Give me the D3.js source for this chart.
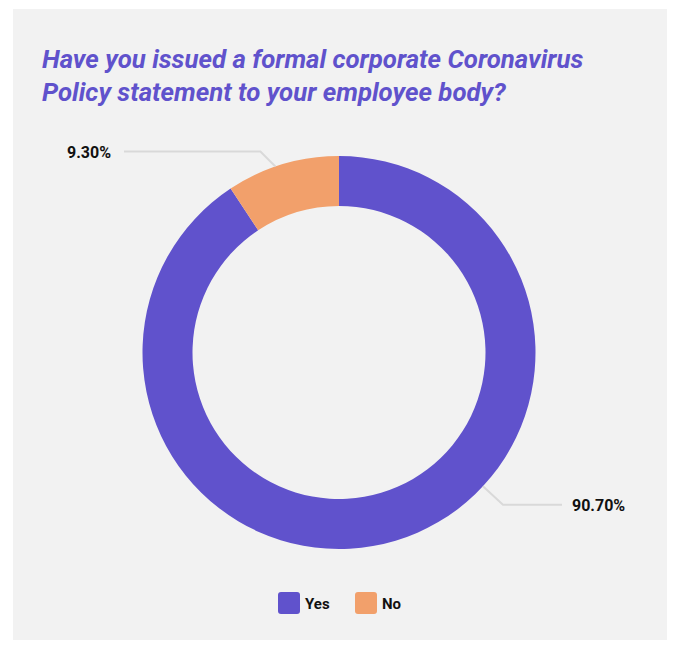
<!DOCTYPE html>
<html>
<head>
<meta charset="utf-8">
<script src="https://cdn.jsdelivr.net/npm/d3@7"></script>
<style>
  html, body { margin: 0; padding: 0; background: #ffffff; }
  svg { display: block; }
</style>
</head>
<body>
<svg id="chart" width="673" height="648"></svg>
<script>
// Survey answers
const categories = ["Yes", "No"];
const shares = [90.7, 9.3];
const valueLabels = ["90.70%", "9.30%"];
const colors = ["#6052cc", "#f2a06b"];
const titleLines = [
  "Have you issued a formal corporate Coronavirus",
  "Policy statement to your employee body?"
];

const svg = d3.select("#chart");
const FONT = "Roboto, 'Noto Sans', sans-serif";

// light panel
svg.append("rect")
  .attr("x", 13).attr("y", 9)
  .attr("width", 654).attr("height", 631)
  .attr("fill", "#f2f2f2");

// title
const title = svg.append("text")
  .attr("font-family", FONT)
  .attr("font-weight", 700)
  .attr("font-style", "italic")
  .attr("font-size", 25.8)
  .attr("fill", "#6052cc");
titleLines.forEach((t, i) => {
  title.append("tspan").attr("x", 42).attr("y", 68 + i * 32.5).text(t);
});

// donut
const cx = 339, cy = 352.5;
const outerR = 196.5, innerR = 146.5;
const g = svg.append("g").attr("transform", `translate(${cx},${cy})`);

const data = categories.map((c, i) => ({ cat: c, value: shares[i], label: valueLabels[i], color: colors[i] }));
const pie = d3.pie().value(d => d.value).sort(null);
const arcs = pie(data);
const arc = d3.arc().innerRadius(innerR).outerRadius(outerR);

g.selectAll("path.slice")
  .data(arcs)
  .enter().append("path")
  .attr("class", "slice")
  .attr("d", arc)
  .attr("fill", d => d.data.color);

// leader lines and value labels:
// where along each slice the line starts, the elbow offset, and the line end x
const labelLayout = {
  "Yes": { frac: 0.407, elbow: [20, 18.5], endX: 223 },
  "No":  { frac: 0.436, elbow: [15, 15],   endX: -215 }
};
arcs.forEach(d => {
  const L = labelLayout[d.data.cat];
  const a = d.startAngle + (d.endAngle - d.startAngle) * L.frac;
  const p0 = [Math.sin(a) * outerR, -Math.cos(a) * outerR];
  const right = Math.sin(a) > 0;
  const sx = right ? 1 : -1;
  const sy = Math.cos(a) > 0 ? -1 : 1;
  const p1 = [p0[0] + sx * L.elbow[0], p0[1] + sy * L.elbow[1]];
  const p2 = [L.endX, p1[1]];
  g.append("polyline")
    .attr("points", [p0, p1, p2].map(p => p.join(",")).join(" "))
    .attr("fill", "none")
    .attr("stroke", "#d9d9d9")
    .attr("stroke-width", 2);
  g.append("text")
    .attr("x", right ? p2[0] + 10 : p2[0] - 13)
    .attr("y", p2[1] + 6)
    .attr("text-anchor", right ? "start" : "end")
    .attr("font-family", FONT)
    .attr("font-weight", 700)
    .attr("font-size", 16)
    .attr("fill", "#111111")
    .text(d.data.label);
});

// legend
const legend = svg.append("g").attr("transform", "translate(278,592)");
const item = legend.selectAll("g.item")
  .data(data)
  .enter().append("g")
  .attr("class", "item")
  .attr("transform", (d, i) => `translate(${i * 77},0)`);
item.append("rect")
  .attr("width", 22).attr("height", 22)
  .attr("rx", 3)
  .attr("fill", d => d.color);
item.append("text")
  .attr("x", 27).attr("y", 17)
  .attr("font-family", FONT)
  .attr("font-weight", 700)
  .attr("font-size", 15)
  .attr("fill", "#111111")
  .text(d => d.cat);
</script>
</body>
</html>
